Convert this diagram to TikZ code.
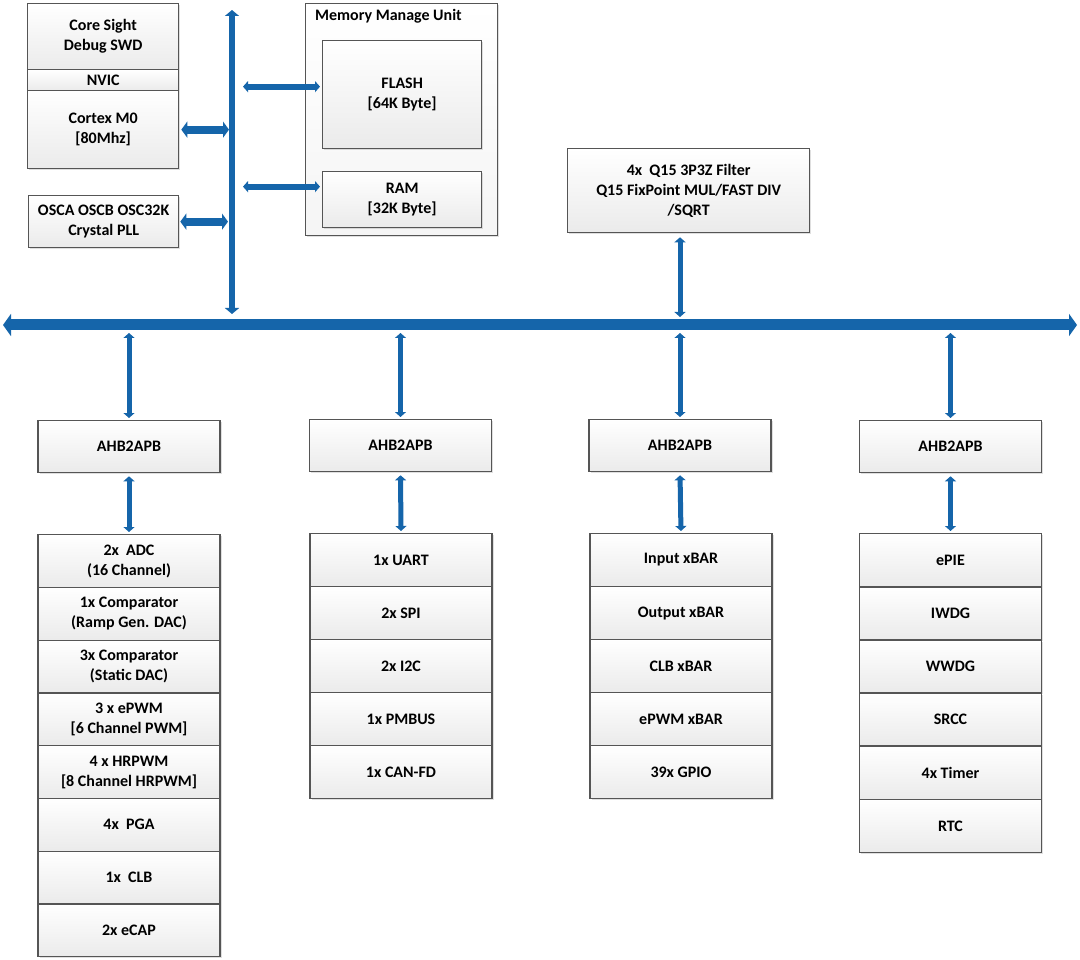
\documentclass[tikz,border=0pt]{standalone}
\usepackage{fontspec}
\setmainfont{Carlito}
\usetikzlibrary{arrows.meta, shadows}
\definecolor{busblue}{RGB}{21,101,170}
\definecolor{boxedge}{RGB}{85,85,85}
\tikzset{
  blk/.style={draw=boxedge, line width=1.3pt, top color=white, bottom color=gray!16,
    drop shadow={opacity=.25, shadow xshift=1.5pt, shadow yshift=-1.5pt},
    align=center, inner sep=0pt, font=\bfseries\fontsize{16}{20}\selectfont},
  row/.style={blk, minimum width=182, minimum height=52.75, anchor=north},
  ahb/.style={blk, minimum width=182, minimum height=52, anchor=north},
  link/.style={busblue, line width=5pt, {Triangle[width=11pt,length=5pt]}-{Triangle[width=11pt,length=5pt]}},
  wlink/.style={busblue, line width=8pt, {Triangle[width=16pt,length=6pt]}-{Triangle[width=16pt,length=6pt]}},
}
\begin{document}
\begin{tikzpicture}[x=1pt, y=-1pt]
    \useasboundingbox[fill=white] (0,0) rectangle (1080,960);
    % CPU side
    \node[blk, anchor=north west, minimum width=151, minimum height=66] (core) at (27,3) {Core Sight\\Debug SWD};
    \node[blk, anchor=north west, minimum width=151, minimum height=21] (nvic) at (27,69) {NVIC};
    \node[blk, anchor=north west, minimum width=151, minimum height=78] (cortex) at (27,90) {Cortex M0\\{[80Mhz]}};
    \node[blk, anchor=north west, minimum width=150, minimum height=52] (osc) at (28,195) {OSCA OSCB OSC32K\\Crystal PLL};
    % Memory
    \node[blk, anchor=north west, minimum width=192, minimum height=232, bottom color=gray!8] (mmu) at (305,3) {};
    \node[anchor=north west, inner sep=0pt, font=\bfseries\fontsize{16}{18}\selectfont] (mmutitle) at (315,9) {Memory Manage Unit};
    \node[blk, anchor=north west, minimum width=159, minimum height=108] (flash) at (322,40) {FLASH\\{[64K Byte]}};
    \node[blk, anchor=north west, minimum width=159, minimum height=56] (ram) at (322,171) {RAM\\{[32K Byte]}};
    \coordinate (flashin) at ([yshift=8pt]flash.west);
    \coordinate (ramin) at ([yshift=13pt]ram.west);
    % Math unit
    \node[blk, anchor=north west, minimum width=242, minimum height=84] (filter) at (567,148) {4x~ Q15 3P3Z Filter\\Q15 FixPoint MUL/FAST DIV\\/SQRT};
    % Bus
    \coordinate (vbT) at (232,10);
    \coordinate (vbB) at (232,314);
    \coordinate (busL) at (3,325);
    \coordinate (busR) at (1077,325);
    \draw[busblue, line width=11pt, {Triangle[width=22pt,length=8pt]}-{Triangle[width=22pt,length=8pt]}] (busL) -- (busR);
    \draw[busblue, line width=6.5pt, {Triangle[width=14pt,length=6pt]}-{Triangle[width=14pt,length=6pt]}] (vbT) -- (vbB);
    % Bridges
    \node[ahb] (ahb1) at (129,420) {AHB2APB};
    \node[ahb] (ahb2) at (400.5,419) {AHB2APB};
    \node[ahb] (ahb3) at (680,419) {AHB2APB};
    \node[ahb] (ahb4) at (950.5,420) {AHB2APB};
    % Peripheral columns
    \foreach \txt [count=\i] in {{2x~ ADC\\(16 Channel)}, {1x Comparator\\(Ramp Gen. DAC)}, {3x Comparator\\(Static DAC)},
        {3 x ePWM\\{[6 Channel PWM]}}, {4 x HRPWM\\{[8 Channel HRPWM]}}, {4x~ PGA}, {1x~ CLB}, {2x eCAP}}
      \node[row] (ca\i) at (129,{534+(\i-1)*52.75}) {\txt};
    \foreach \txt [count=\i] in {1x UART, 2x SPI, 2x I2C, 1x PMBUS, 1x CAN-FD}
      \node[row] (cb\i) at (401,{533+(\i-1)*53}) {\txt};
    \foreach \txt [count=\i] in {Input xBAR, Output xBAR, CLB xBAR, ePWM xBAR, 39x GPIO}
      \node[row] (cc\i) at (681,{533+(\i-1)*53}) {\txt};
    \foreach \txt [count=\i] in {ePIE, IWDG, WWDG, SRCC, 4x Timer, RTC}
      \node[row] (cd\i) at (950.5,{533+(\i-1)*53.2}) {\txt};
    % Arrows
    \draw[wlink, shorten <=2pt, shorten >=3pt] (cortex.east) -- (vbT |- cortex.east);
    \draw[wlink, shorten <=1pt, shorten >=4pt] (osc.east) -- (vbT |- osc.east);
    \draw[link, line width=6pt, shorten <=11pt, shorten >=2pt] (vbT |- flashin) -- (flashin);
    \draw[link, line width=6pt, shorten <=11pt, shorten >=2pt] (vbT |- ramin) -- (ramin);
    \draw[link, shorten <=4pt, shorten >=8pt] (ahb3.north |- filter.south) -- (ahb3.north |- busL);
    \foreach \c/\r in {ahb1/ca1, ahb2/cb1, ahb3/cc1, ahb4/cd1} {
      \draw[link, shorten <=8pt, shorten >=2pt] (\c.north |- busL) -- (\c.north);
      \draw[link, shorten <=3pt, shorten >=2pt] (\c.south) -- (\r.north);
    }
\end{tikzpicture}
\end{document}
